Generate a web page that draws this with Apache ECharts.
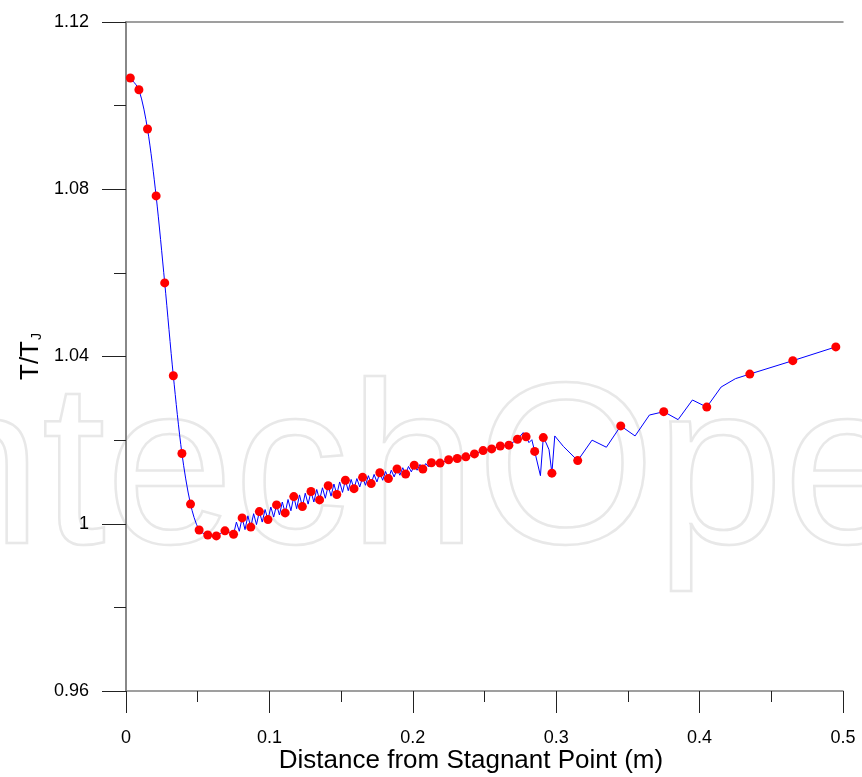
<!DOCTYPE html>
<html><head><meta charset="utf-8">
<script src="https://cdn.jsdelivr.net/npm/echarts@6/dist/echarts.min.js"></script>
<style>html,body{margin:0;padding:0;background:#fff}#c{width:862px;height:777px}</style>
</head><body><div id="c"></div><script>
// ---- data ----
const xTicks = [0, 0.1, 0.2, 0.3, 0.4, 0.5];
const yTicks = [0.96, 1.0, 1.04, 1.08, 1.12];

// smooth steep head of the curve
const headX = [0.003,0.009,0.015,0.021,0.027,0.033,0.039,0.045,0.051,0.057,0.063,0.069,0.075];
const headY = [1.1066,1.1038,1.0944,1.0784,1.0576,1.0354,1.0168,1.0047,0.9985,0.9973,0.9971,0.9983,0.9975];

// rest of the blue curve (oscillating part and tail)
const lineX = [0.075,0.077,0.079,0.081,0.083,0.085,0.087,0.089,0.091,0.093,0.095,0.097,0.099,0.101,0.103,0.105,0.107,0.109,0.111,0.113,0.115,0.117,0.119,0.121,0.123,0.125,0.127,0.129,0.131,0.133,0.135,0.137,0.139,0.141,0.143,0.145,0.147,0.149,0.151,0.153,0.155,0.157,0.159,0.161,0.163,0.165,0.167,0.169,0.171,0.173,0.175,0.177,0.179,0.181,0.183,0.185,0.187,0.189,0.191,0.193,0.195,0.197,0.199,0.201,0.203,0.205,0.207,0.209,0.211,0.213,0.215,0.217,0.219,
  0.225,0.231,0.237,0.243,0.249,0.255,0.261,0.267,0.273,0.277,0.279,0.281,0.283,0.285,0.289,0.291,0.293,0.295,0.297,0.299,0.305,0.315,0.325,0.335,0.345,0.355,0.365,0.375,0.385,0.395,0.405,0.415,0.425,0.435,0.465,0.495];
const lineY = [0.9975,1.0004,0.9982,1.0014,0.9986,1.0019,0.9992,1.0024,0.9998,1.0029,1.0004,1.0034,1.0010,1.0040,1.0016,1.0045,1.0021,1.0052,1.0026,1.0058,1.0031,1.0065,1.0036,1.0069,1.0041,1.0073,1.0047,1.0077,1.0052,1.0082,1.0057,1.0086,1.0061,1.0091,1.0066,1.0095,1.0070,1.0100,1.0075,1.0104,1.0079,1.0106,1.0084,1.0108,1.0088,1.0111,1.0092,1.0115,1.0096,1.0118,1.0100,1.0122,1.0104,1.0125,1.0108,1.0128,1.0112,1.0131,1.0116,1.0134,1.0119,1.0137,1.0124,1.0140,1.0128,1.0142,1.0131,1.0144,1.0136,1.0146,1.0141,1.0147,1.0145,
  1.0153,1.0156,1.0160,1.0167,1.0175,1.0179,1.0186,1.0188,1.0202,1.0218,1.0208,1.0194,1.0201,1.0173,1.0115,1.0206,1.0193,1.0177,1.0121,1.0210,1.0185,1.0151,1.0200,1.0183,1.0234,1.0210,1.0260,1.0268,1.0249,1.0296,1.0279,1.0327,1.0347,1.0358,1.0390,1.0423];

// red markers
const markX = [0.003,0.009,0.015,0.021,0.027,0.033,0.039,0.045,0.051,0.057,0.063,0.069,0.075,0.081,0.087,0.093,0.099,0.105,0.111,0.117,0.123,0.129,0.135,0.141,0.147,0.153,0.159,0.165,0.171,0.177,0.183,0.189,0.195,0.201,0.207,0.213,0.219,0.225,0.231,0.237,0.243,0.249,0.255,0.261,0.267,0.273,0.279,0.285,0.291,0.297,0.315,0.345,0.375,0.405,0.435,0.465,0.495];
const markY = [1.1066,1.1038,1.0944,1.0784,1.0576,1.0354,1.0168,1.0047,0.9985,0.9973,0.9971,0.9983,0.9975,1.0014,0.9992,1.0029,1.0010,1.0045,1.0026,1.0065,1.0041,1.0077,1.0057,1.0091,1.0070,1.0104,1.0084,1.0111,1.0096,1.0122,1.0108,1.0131,1.0119,1.0140,1.0131,1.0146,1.0145,1.0153,1.0156,1.0160,1.0167,1.0175,1.0179,1.0186,1.0188,1.0202,1.0208,1.0173,1.0206,1.0121,1.0151,1.0234,1.0268,1.0279,1.0358,1.0390,1.0423];

const zip = (a, b) => a.map((v, i) => [v, b[i]]);
const FONT = '"Liberation Sans", Arial, Helvetica, sans-serif';
const fmt = v => String(parseFloat((+v).toFixed(2)));

const chart = echarts.init(document.getElementById('c'), null, {renderer: 'canvas'});
chart.setOption({
  animation: false,
  backgroundColor: '#fff',
  graphic: [{
    type: 'text', silent: true, z: -10, x: -150, y: 480,
    style: { text: 'IntechOpen', font: 'normal 230px ' + FONT, fill: 'rgba(0,0,0,0)', stroke: '#e8e8e8', lineWidth: 2.5, align: 'left', verticalAlign: 'middle' }
  }],
  grid: { left: 126, right: 19, top: 22, bottom: 86, containLabel: false, outerBoundsMode: 'none' },
  xAxis: [{
    type: 'value', min: 0, max: 0.5, interval: 0.1, position: 'bottom',
    name: 'Distance from Stagnant Point (m)', nameLocation: 'middle', nameGap: 57, nameMoveOverlap: false,
    nameTextStyle: { fontFamily: FONT, fontSize: 26, color: '#000', padding: [0, 27, 0, 0] },
    axisLine: { show: true, lineStyle: { color: '#808080', width: 1.5 } },
    axisTick: { show: true, inside: false, length: 22, lineStyle: { color: '#222', width: 1 } },
    minorTick: { show: true, splitNumber: 2, length: 11, lineStyle: { color: '#222', width: 1 } },
    splitLine: { show: false }, minorSplitLine: { show: false },
    axisLabel: { margin: 38, fontFamily: FONT, fontSize: 18, color: '#000', formatter: v => fmt(v) }
  }, {
    type: 'value', min: 0, max: 0.5, position: 'top',
    axisLine: { show: true, lineStyle: { color: '#808080', width: 1.5 } },
    axisTick: { show: false }, axisLabel: { show: false }, splitLine: { show: false }
  }],
  yAxis: [{
    type: 'value', min: 0.96, max: 1.12, interval: 0.04, position: 'left',
    name: '{a|T/T}{b|J}', nameLocation: 'middle', nameRotate: 90, nameGap: 82, nameMoveOverlap: false,
    nameTextStyle: { color: '#000', rich: {
      a: { fontFamily: FONT, fontSize: 26, lineHeight: 26, verticalAlign: 'top', color: '#000' },
      b: { fontFamily: FONT, fontSize: 14, lineHeight: 14, padding: [19, 0, 0, 1], verticalAlign: 'bottom', color: '#000' }
    } },
    axisLine: { show: true, lineStyle: { color: '#808080', width: 1.5 } },
    axisTick: { show: true, inside: false, length: 24, lineStyle: { color: '#222', width: 1 } },
    minorTick: { show: true, splitNumber: 2, length: 12, lineStyle: { color: '#222', width: 1 } },
    splitLine: { show: false }, minorSplitLine: { show: false },
    axisLabel: { margin: 37, fontFamily: FONT, fontSize: 18, color: '#000', formatter: v => fmt(v) }
  }, {
    type: 'value', min: 0.96, max: 1.12, position: 'right',
    axisLine: { show: true, lineStyle: { color: '#808080', width: 1.5 } },
    axisTick: { show: false }, axisLabel: { show: false }, splitLine: { show: false }
  }],
  series: [{
    type: 'line', data: zip(headX, headY), smooth: 0.3, symbol: 'none',
    lineStyle: { color: '#0000ff', width: 1 }, z: 3
  }, {
    type: 'line', data: zip(lineX, lineY), smooth: false, symbol: 'none',
    lineStyle: { color: '#0000ff', width: 1 }, z: 3
  }, {
    type: 'scatter', data: zip(markX, markY), symbol: 'circle', symbolSize: 9,
    itemStyle: { color: '#ff0000', opacity: 1 }, z: 5
  }]
});
</script></body></html>
